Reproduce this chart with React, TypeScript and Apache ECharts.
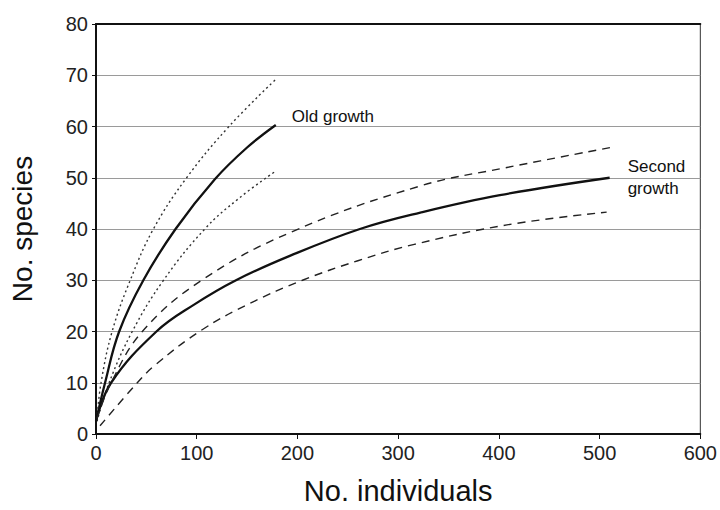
import React, { useEffect, useRef } from "react";
import * as echarts from "echarts";

// [individuals, species]
const oldGrowth: number[][] = [[0, 2.5], [9, 10], [23, 20], [47, 30], [79, 40], [118, 49.7], [150, 55.9], [178.5, 60.3]];
const oldUpper: number[][] = [[1, 3], [5, 10], [16, 20], [34, 30], [57, 40], [90, 50], [132, 60], [178.5, 69.2]];
const oldLower: number[][] = [[1, 2.5], [13, 10], [36, 20], [67, 30], [108, 40], [142, 46], [178.5, 51.3]];
const secondGrowth: number[][] = [[0, 2.5], [15, 10], [60, 20], [97, 25.2], [139, 30], [193, 34.8], [262, 40], [322, 43.2], [401, 46.6], [510, 50]];
const secondUpper: number[][] = [[1, 3], [15, 10], [46, 20], [105, 30], [195, 39.5], [322, 48.4], [408, 52], [511, 55.9]];
const secondLower: number[][] = [[4, 1.6], [41, 10], [59, 13.5], [105, 20.3], [153, 25.5], [205, 30], [260, 33.8], [316, 37], [408, 40.8], [507, 43.3]];

const oldLabel = "Old growth";
const secondLabel = "Second\ngrowth";
const xTitle = "No. individuals";
const yTitle = "No. species";

const FONT = "Liberation Sans, Arial, sans-serif";

export default function App() {
  const ref = useRef<HTMLDivElement>(null);
  useEffect(() => {
    if (!ref.current) return;
    const chart = echarts.init(ref.current, undefined, { renderer: "svg" });
    const lineBase = {
      type: "line" as const,
      showSymbol: false,
      symbol: "none",
      smooth: 0.4,
      silent: true,
    };
    chart.setOption({
      animation: false,
      backgroundColor: "#ffffff",
      grid: {
        left: 96,
        right: 19,
        top: 24,
        bottom: 70,
        show: true,
        borderColor: "#333",
        borderWidth: 1,
      },
      xAxis: [
        {
          type: "value",
          min: 0,
          max: 600,
          interval: 100,
          name: xTitle,
          nameLocation: "middle",
          nameGap: 42,
          nameTextStyle: { fontFamily: FONT, fontSize: 29, color: "#111" },
          axisLine: { show: true, lineStyle: { color: "#111", width: 2 } },
          axisTick: { show: true, inside: false, length: 5, lineStyle: { color: "#111", width: 1 } },
          axisLabel: { fontFamily: FONT, fontSize: 20, color: "#222", margin: 9 },
          splitLine: { show: false },
        },
        {
          type: "value",
          position: "top",
          min: 0,
          max: 600,
          axisLine: { show: true, lineStyle: { color: "#111", width: 2 } },
          axisTick: { show: false },
          axisLabel: { show: false },
          splitLine: { show: false },
        },
      ],
      yAxis: {
        type: "value",
        min: 0,
        max: 80,
        interval: 10,
        name: yTitle,
        nameLocation: "middle",
        nameGap: 60,
        nameRotate: 90,
        nameTextStyle: { fontFamily: FONT, fontSize: 28, color: "#111" },
        axisLine: { show: true, lineStyle: { color: "#111", width: 2 } },
        axisTick: { show: true, inside: false, length: 4, lineStyle: { color: "#111", width: 1 } },
        axisLabel: { fontFamily: FONT, fontSize: 20, color: "#222", margin: 8 },
        splitLine: { show: true, lineStyle: { color: "#9a9a9a", width: 1 } },
      },
      series: [
        {
          ...lineBase,
          name: "Old growth",
          data: oldGrowth,
          lineStyle: { color: "#111", width: 2.3, type: "solid" },
          endLabel: {
            show: true,
            formatter: oldLabel,
            offset: [8, -8],
            fontFamily: FONT,
            fontSize: 17,
            color: "#111",
          },
        },
        {
          ...lineBase,
          name: "Old upper",
          data: oldUpper,
          lineStyle: { color: "#333", width: 1.4, type: [2, 3] },
        },
        {
          ...lineBase,
          name: "Old lower",
          data: oldLower,
          lineStyle: { color: "#333", width: 1.4, type: [2, 3] },
        },
        {
          ...lineBase,
          name: "Second growth",
          data: secondGrowth,
          lineStyle: { color: "#111", width: 2.3, type: "solid" },
          endLabel: {
            show: true,
            formatter: secondLabel,
            offset: [10, 0],
            fontFamily: FONT,
            fontSize: 17,
            lineHeight: 22,
            color: "#111",
          },
        },
        {
          ...lineBase,
          name: "Second upper",
          data: secondUpper,
          lineStyle: { color: "#222", width: 1.4, type: [8, 6] },
        },
        {
          ...lineBase,
          name: "Second lower",
          data: secondLower,
          lineStyle: { color: "#222", width: 1.4, type: [8, 6] },
        },
      ],
    });
    return () => chart.dispose();
  }, []);
  return (
    <div
      ref={ref}
      style={{ position: "fixed", left: 0, top: 0, width: 720, height: 510, background: "#fff" }}
    />
  );
}
